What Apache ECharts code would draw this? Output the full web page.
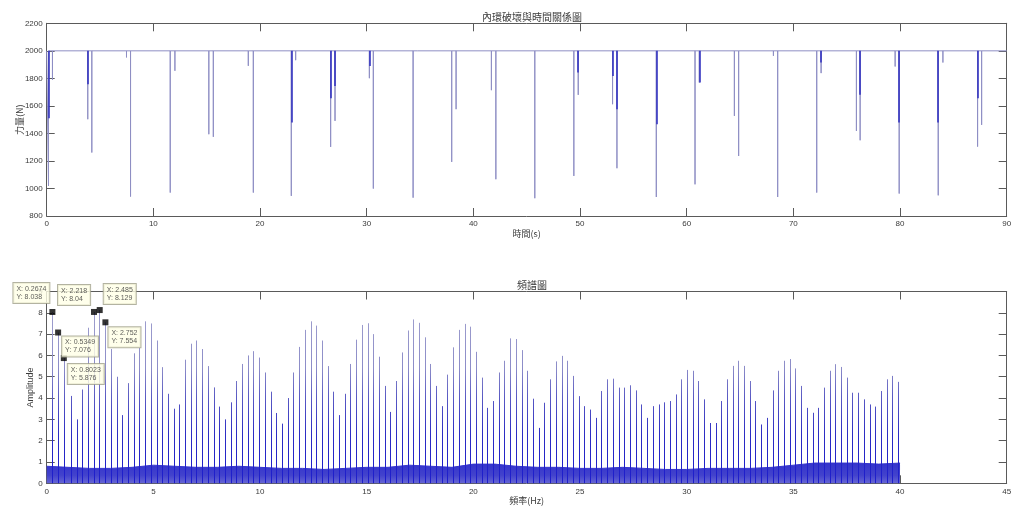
<!DOCTYPE html>
<html><head><meta charset="utf-8">
<script src="https://cdn.jsdelivr.net/npm/echarts@6/dist/echarts.min.js"></script>
<style>html,body{margin:0;padding:0;background:#fff}#c{width:1014px;height:508px}</style>
</head><body><div id="c"></div>
<script>
// ================= DATA =================
// --- top chart: force vs time ---
const topTitle = '內環破壞與時間關係圖';
const topXName = '時間(s)';
const topYName = '力量(N)';
const baseForce = 2000;
const spikeTimes = [0.17,0.54,3.85,4.23,7.48,7.86,11.58,12.02,15.2,15.62,18.9,19.37,22.93,23.34,26.62,27.03,30.25,30.62,34.35,34.79,37.97,38.38,41.69,42.11,45.76,49.42,49.83,53.05,53.46,57.15,60.78,61.18,64.47,64.87,68.13,68.53,72.19,72.6,75.91,76.26,79.54,79.92,83.58,84.02,87.27,87.65];
const spikeMins = [1018,1790,1503,1261,1952,941,970,1855,1394,1375,1891,970,946,1932,1302,1491,1801,999,933,1988,1193,1576,1714,1067,929,1091,1680,1612,1147,938,1030,1770,1527,1236,1964,938,970,1838,1418,1350,1886,963,950,1915,1304,1462];
// overlapping (dense) parts of some spikes
const denseTimes = [0.17,3.85,22.93,26.62,27.03,30.25,49.83,53.05,53.46,57.15,61.18,72.6,76.26,79.92,83.58,87.27];
const denseMins  = [1510,1758,1479,1656,1745,1890,1842,1818,1576,1467,1770,1915,1680,1479,1479,1656];

// --- bottom chart: spectrum ---
const botTitle = '頻譜圖';
const botXName = '頻率(Hz)';
const botYName = 'Amplitude';
const firstPeakFreqs = [0.2674,0.5349,0.8023];
const combRefFreq = 2.218;   // frequency of the 8th peak (data tip)
const combRefIndex = 8;
const combStep = 0.2674;
const peakAmps = [
 8.038,7.076,5.876,4.1,3.0,4.4,7.3,8.04,8.129,7.554,
 6.3,5.0,3.2,4.7,6.1,6.35,7.6,7.5,6.7,5.45,
 4.2,3.5,3.7,5.8,6.55,6.7,6.3,5.5,4.5,3.6,
 3.0,3.8,4.8,5.6,6.0,6.2,5.9,5.2,4.3,3.3,
 2.8,4.0,5.2,6.4,7.2,7.6,7.4,6.7,5.5,4.3,
 3.2,4.2,5.6,6.74,7.43,7.51,7.0,5.94,4.57,3.35,
 4.8,6.14,7.17,7.69,7.53,6.85,5.6,4.57,3.62,5.1,
 6.38,7.2,7.48,7.35,6.17,4.96,3.54,3.86,5.2,5.75,
 6.8,6.77,6.25,5.28,3.97,2.6,3.78,4.88,5.72,5.98,
 5.75,5.04,4.09,3.62,3.46,3.07,4.33,4.88,4.91,4.49,
 4.49,4.6,4.36,3.7,3.07,3.62,3.7,3.8,3.86,4.17,
 4.88,5.32,5.28,4.8,3.94,2.83,2.83,3.86,4.88,5.51,
 5.75,5.51,4.8,3.86,2.76,3.07,4.36,5.28,5.75,5.83,
 5.39,4.57,3.54,3.31,3.54,4.49,5.28,5.59,5.46,4.96,
 4.25,4.25,3.94,3.7,3.6,4.33,4.88,5.04,4.76
];
// noise floor envelope, read at every 1 Hz (0..40)
const noiseFreqs = [0,1,2,3,4,5,6,7,8,9,10,11,12,13,14,15,16,17,18,19,20,21,22,23,24,25,26,27,28,29,30,31,32,33,34,35,36,37,38,39,40];
const noiseHigh = [0.8,0.75,0.7,0.7,0.75,0.85,0.8,0.75,0.75,0.8,0.75,0.7,0.7,0.65,0.7,0.75,0.75,0.85,0.8,0.75,0.9,0.9,0.8,0.75,0.75,0.7,0.7,0.75,0.7,0.65,0.65,0.7,0.7,0.7,0.75,0.85,0.95,0.95,0.95,0.9,0.95];
// data tips
const tipX = [0.2674,2.218,2.485,0.5349,0.8023,2.752];
const tipY = [8.038,8.04,8.129,7.076,5.876,7.554];

// ================= STYLE =================
const tipLabelOffsets = [[-36,-26],[-33,-24],[7,-23],[7,7],[7,9],[6,8]];
const FONT = '"Liberation Sans", Arial, sans-serif';
const CJK = '"Noto Sans CJK TC","Noto Sans CJK SC",sans-serif';
const AX = '#5a5a5a';
const TXT = '#3a3a3a';

// ================= BUILD =================
const sigData = [[0, baseForce]];
spikeTimes.forEach((t, i) => { sigData.push([t, baseForce], [t, spikeMins[i]], [t, baseForce]); });
sigData.push([90, baseForce]);
const denseLines = denseTimes.map((t, i) => ({ coords: [[t, baseForce], [t, denseMins[i]]] }));

const peakFreqs = peakAmps.map((a, i) => {
  const k = i + 1;
  return k <= firstPeakFreqs.length ? firstPeakFreqs[i] : combRefFreq + (k - combRefIndex) * combStep;
});
const peakLines = peakAmps.map((a, i) => ({ coords: [[peakFreqs[i], 0], [peakFreqs[i], a]] }));
const noiseData = noiseFreqs.map((f, i) => [f, noiseHigh[i]]);
const tipData = tipX.map((x, i) => ({
  value: [x, tipY[i]],
  label: { position: tipLabelOffsets[i] }
}));

function xAx(grid, max, interval, pos, name) {
  const a = {
    gridIndex: grid, type: 'value', min: 0, max: max, interval: interval, position: pos,
    axisLine: { show: true, onZero: false, lineStyle: { color: AX, width: 1 } },
    axisTick: { show: true, inside: true, length: 8, lineStyle: { color: AX } },
    axisLabel: { show: pos === 'bottom', fontSize: 8, color: TXT, fontFamily: FONT, margin: 4, formatter: v => String(v) },
    splitLine: { show: false }
  };
  if (name) { a.name = name; a.nameLocation = 'middle'; a.nameGap = 13; a.nameMoveOverlap = false; a.nameTextStyle = { fontFamily: CJK, fontSize: 9, color: TXT }; }
  return a;
}
function yAx(grid, min, max, interval, pos, name, nameGap, nameFont) {
  const a = {
    gridIndex: grid, type: 'value', min: min, max: max, interval: interval, position: pos,
    axisLine: { show: true, onZero: false, lineStyle: { color: AX, width: 1 } },
    axisTick: { show: true, inside: true, length: 8, lineStyle: { color: AX } },
    axisLabel: { show: pos === 'left', fontSize: 8, color: TXT, fontFamily: FONT, margin: 4, formatter: v => String(v) },
    splitLine: { show: false }
  };
  if (name) { a.name = name; a.nameLocation = 'middle'; a.nameGap = nameGap; a.nameMoveOverlap = false; a.nameTextStyle = { fontFamily: nameFont, fontSize: 9, color: TXT }; }
  return a;
}

const chart = echarts.init(document.getElementById('c'), null, { renderer: 'canvas' });
chart.setOption({
  backgroundColor: '#fff',
  animation: false,
  title: [
    { text: topTitle, left: 527, top: 7, textAlign: 'center', textStyle: { fontFamily: CJK, fontSize: 10, fontWeight: 'normal', color: TXT } },
    { text: botTitle, left: 527, top: 275, textAlign: 'center', textStyle: { fontFamily: CJK, fontSize: 10, fontWeight: 'normal', color: TXT } }
  ],
  grid: [
    { left: 46.7, right: 7.3, top: 23.3, height: 192.7, outerBoundsMode: 'none', containLabel: false },
    { left: 46.7, right: 7.3, top: 291.5, height: 191.8, outerBoundsMode: 'none', containLabel: false }
  ],
  xAxis: [
    xAx(0, 90, 10, 'bottom', topXName),
    xAx(0, 90, 10, 'top'),
    xAx(1, 45, 5, 'bottom', botXName),
    xAx(1, 45, 5, 'top')
  ],
  yAxis: [
    yAx(0, 800, 2200, 200, 'left', topYName, 23, CJK),
    yAx(0, 800, 2200, 200, 'right'),
    yAx(1, 0, 9, 1, 'left', botYName, 12, FONT),
    yAx(1, 0, 9, 1, 'right')
  ],
  series: [
    {
      type: 'line', xAxisIndex: 0, yAxisIndex: 0, data: sigData, showSymbol: false, symbol: 'none',
      lineStyle: { color: '#8e8ec4', width: 1 }, z: 2
    },
    {
      type: 'lines', coordinateSystem: 'cartesian2d', xAxisIndex: 0, yAxisIndex: 0, data: denseLines,
      lineStyle: { color: '#3434c0', width: 1.6, opacity: 1 }, z: 3
    },
    {
      type: 'line', xAxisIndex: 2, yAxisIndex: 2, data: noiseData, showSymbol: false, symbol: 'none',
      lineStyle: { color: '#3636cc', width: 1 },
      areaStyle: {
        opacity: 1,
        color: new echarts.graphic.LinearGradient(0, 0, 0, 1, [
          { offset: 0, color: '#3434cc' },
          { offset: 0.6, color: '#4242cc' },
          { offset: 1, color: '#6666d4' }
        ])
      }, z: 2
    },
    {
      type: 'lines', coordinateSystem: 'cartesian2d', xAxisIndex: 2, yAxisIndex: 2, data: peakLines,
      lineStyle: {
        width: 1, opacity: 1,
        color: new echarts.graphic.LinearGradient(0, 291, 0, 483, [
          { offset: 0, color: '#a6a6d0' },
          { offset: 0.4, color: '#8c8cc8' },
          { offset: 0.55, color: '#5a5ac4' },
          { offset: 0.75, color: '#2c2cc4' },
          { offset: 1, color: '#1c1ccc' }
        ], true)
      }, z: 3
    },
    {
      type: 'scatter', xAxisIndex: 2, yAxisIndex: 2, data: tipData, symbol: 'rect', symbolSize: 6,
      itemStyle: { color: '#000' }, z: 10,
      label: {
        show: true, fontSize: 7, fontFamily: FONT, color: '#333', lineHeight: 8,
        backgroundColor: '#ffffe6', borderColor: '#a0a08a', borderWidth: 1, padding: [2, 3, 2, 3],
        formatter: p => 'X: ' + p.value[0] + '\nY: ' + p.value[1]
      }
    }
  ]
});
</script></body></html>
